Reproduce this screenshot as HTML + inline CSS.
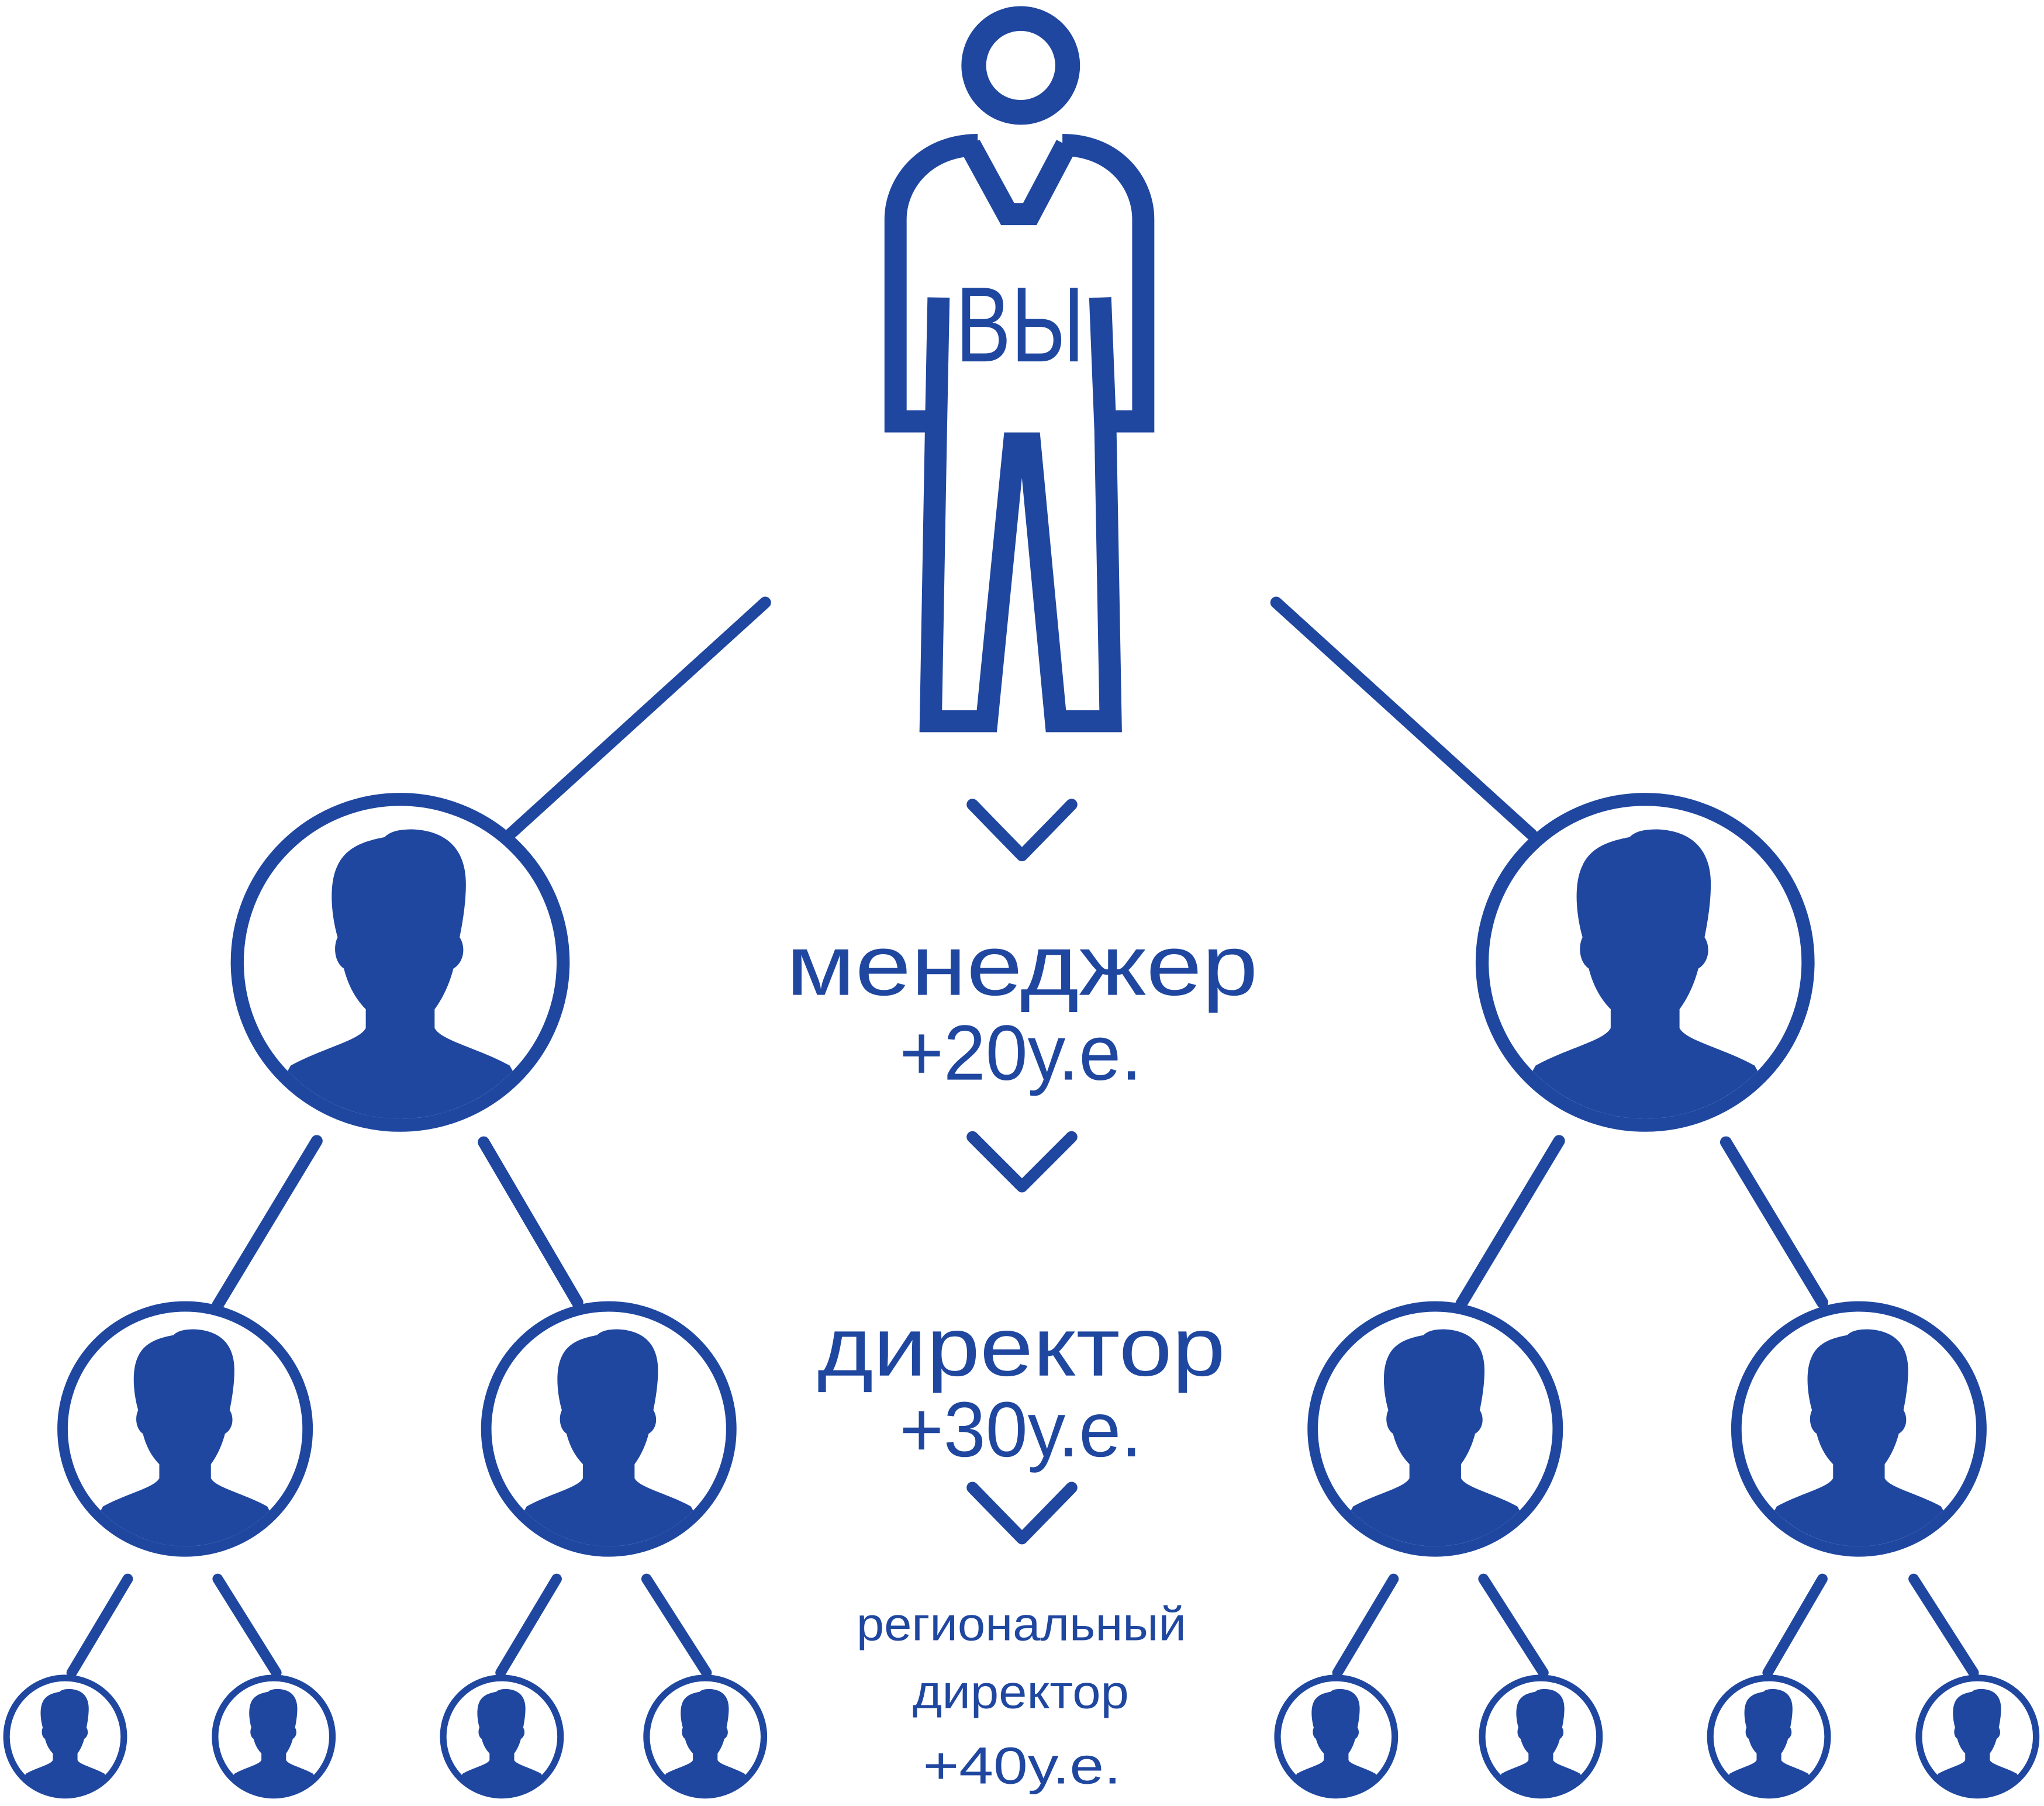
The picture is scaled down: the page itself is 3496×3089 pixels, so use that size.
<!DOCTYPE html>
<html><head><meta charset="utf-8"><style>html,body{margin:0;padding:0;background:#fff}svg{display:block}</style></head>
<body>
<svg width="3496" height="3089" viewBox="0 0 1568 1385" xmlns="http://www.w3.org/2000/svg" font-family="'Liberation Sans', sans-serif">
<defs>
<clipPath id="cc" clipPathUnits="userSpaceOnUse"><circle cx="0" cy="0" r="100"/></clipPath>
<g id="av">
<g clip-path="url(#cc)">
<path fill="#1f47a0" d="M-22,30 C-30,22 -34,12 -36,4 C-42,0 -43,-10 -40,-16 C-44,-30 -46,-50 -40,-62 C-34,-75 -20,-78 -10,-80 C-6,-84 0,-85 8,-85 C30,-84 42,-72 42,-50 C42,-38 40,-26 38,-16 C42,-10 41,0 34,4 C32,12 28,22 22,30 L22,42 C26,50 50,55 70,66 L100,120 L-100,120 L-70,66 C-50,55 -26,50 -22,42 Z"/>
</g>
</g>
</defs>
<rect width="1568" height="1385" fill="#fff"/>
<g stroke="#1f47a0" fill="none" stroke-linecap="round" stroke-linejoin="round">
<!-- person -->
<circle cx="783" cy="50" r="36" stroke-width="19"/>
<path stroke-width="17" stroke-linecap="butt" stroke-linejoin="miter" d="M744,111 L773,164 L790,164 L818,111"/>
<path stroke-width="17" stroke-linecap="butt" stroke-linejoin="miter" d="M750,111 C710,111 687,140 687,168 L687,323 L718,323"/>
<path stroke-width="17" stroke-linecap="butt" stroke-linejoin="miter" d="M815,111 C855,111 877,140 877,168 L877,323 L846,323"/>
<path stroke-width="17" stroke-linecap="butt" stroke-linejoin="miter" d="M720,228 L718,330 L714,553 L757,553 L778,340 L790,340 L810,553 L852,553 L848,330 L844,228"/>
<!-- connectors -->
<g stroke-width="9">
<line x1="587" y1="462" x2="391" y2="640"/>
<line x1="979" y1="462" x2="1175" y2="640"/>
<line x1="243" y1="875" x2="167" y2="1001"/>
<line x1="371" y1="876" x2="443" y2="999"/>
<line x1="1196" y1="875" x2="1121" y2="1000"/>
<line x1="1324" y1="876" x2="1398" y2="999"/>
</g>
<g stroke-width="8">
<line x1="98" y1="1211" x2="55" y2="1283"/>
<line x1="167" y1="1211" x2="212" y2="1283"/>
<line x1="427" y1="1211" x2="384" y2="1283"/>
<line x1="496" y1="1211" x2="542" y2="1283"/>
<line x1="1069" y1="1211" x2="1026" y2="1283"/>
<line x1="1138" y1="1211" x2="1184" y2="1283"/>
<line x1="1398" y1="1211" x2="1356" y2="1283"/>
<line x1="1468" y1="1211" x2="1514" y2="1283"/>
</g>
<!-- chevrons -->
<g stroke-width="9">
<polyline points="746,617 784,656 822,617"/>
<polyline points="746,872 784,910 822,872"/>
<polyline points="746,1141 784,1180 822,1141"/>
</g>
<!-- circles -->
<circle cx="307" cy="738" r="125" stroke-width="10"/>
<circle cx="1262" cy="738" r="125" stroke-width="10"/>
<g stroke-width="8">
<circle cx="142" cy="1096" r="94"/><circle cx="467" cy="1096" r="94"/>
<circle cx="1101" cy="1096" r="94"/><circle cx="1426" cy="1096" r="94"/>
</g>
<g stroke-width="5">
<circle cx="50" cy="1332" r="45"/><circle cx="210" cy="1332" r="45"/>
<circle cx="385" cy="1332" r="45"/><circle cx="541" cy="1332" r="45"/>
<circle cx="1025" cy="1332" r="45"/><circle cx="1182" cy="1332" r="45"/>
<circle cx="1357" cy="1332" r="45"/><circle cx="1517" cy="1332" r="45"/>
</g>
</g>
<!-- avatars -->
<use href="#av" transform="translate(307,738) scale(1.2)"/>
<use href="#av" transform="translate(1262,738) scale(1.2)"/>
<use href="#av" transform="translate(142,1096) scale(0.9)"/>
<use href="#av" transform="translate(467,1096) scale(0.9)"/>
<use href="#av" transform="translate(1101,1096) scale(0.9)"/>
<use href="#av" transform="translate(1426,1096) scale(0.9)"/>
<use href="#av" transform="translate(50,1332) scale(0.43)"/>
<use href="#av" transform="translate(210,1332) scale(0.43)"/>
<use href="#av" transform="translate(385,1332) scale(0.43)"/>
<use href="#av" transform="translate(541,1332) scale(0.43)"/>
<use href="#av" transform="translate(1025,1332) scale(0.43)"/>
<use href="#av" transform="translate(1182,1332) scale(0.43)"/>
<use href="#av" transform="translate(1357,1332) scale(0.43)"/>
<use href="#av" transform="translate(1517,1332) scale(0.43)"/>
<!-- texts -->
<g fill="#1f47a0">
<text x="733" y="277" font-size="82" textLength="99" lengthAdjust="spacingAndGlyphs">ВЫ</text>
<text x="603" y="763" font-size="66" textLength="362" lengthAdjust="spacingAndGlyphs">менеджер</text>
<text x="690" y="828" font-size="60" textLength="186" lengthAdjust="spacingAndGlyphs">+20у.е.</text>
<text x="627" y="1055" font-size="64" textLength="313" lengthAdjust="spacingAndGlyphs">директор</text>
<text x="690" y="1117" font-size="60" textLength="186" lengthAdjust="spacingAndGlyphs">+30у.е.</text>
<text x="657" y="1258" font-size="36" textLength="253" lengthAdjust="spacingAndGlyphs">региональный</text>
<text x="700" y="1310" font-size="36" textLength="166" lengthAdjust="spacingAndGlyphs">директор</text>
<text x="708" y="1368" font-size="40" textLength="152" lengthAdjust="spacingAndGlyphs">+40у.е.</text>
</g>
</svg>
</body></html>
